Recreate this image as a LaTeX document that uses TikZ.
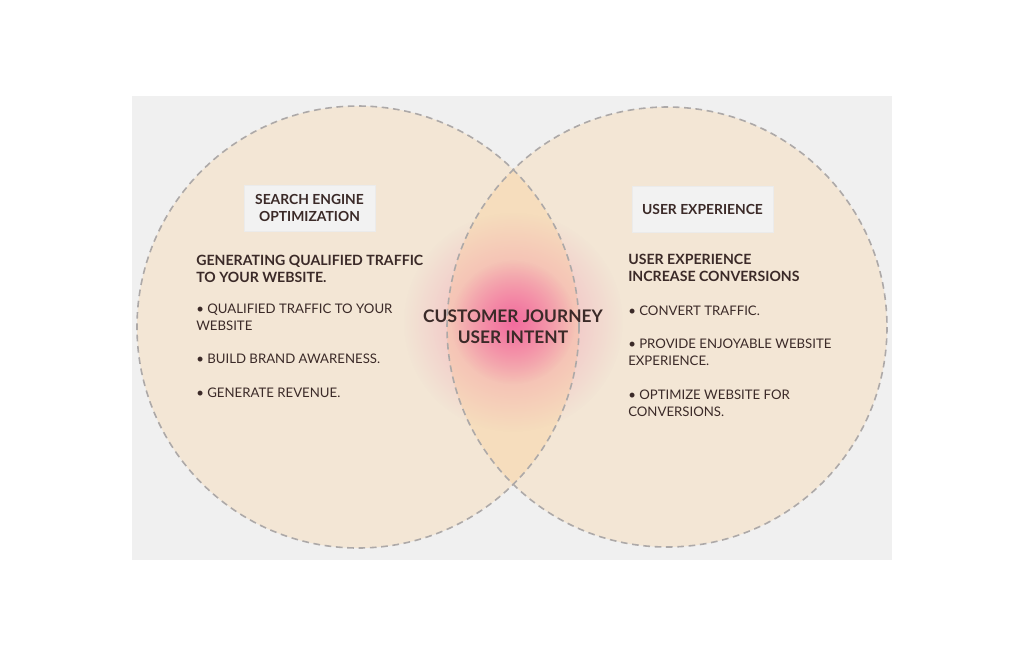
\documentclass[tikz,border=0pt]{standalone}
\usepackage{fontspec}
\setmainfont{Lato}
\usetikzlibrary{positioning,fadings,shadows}
\definecolor{panel}{HTML}{F0F0F0}
\definecolor{sand}{HTML}{F6DEBC}
\definecolor{lens}{HTML}{F6DDBD}
\definecolor{rim}{HTML}{ADA9A8}
\definecolor{ink}{HTML}{3B2A28}
\definecolor{rose}{HTML}{F25E9A}
\definecolor{tagfill}{HTML}{F2F2F2}
\tikzfading[name=glowfade,inner color=transparent!0,outer color=transparent!100]

\begin{document}
\begin{tikzpicture}[
  x=0.75pt,y=-0.75pt,
  disc/.style={fill=sand,fill opacity=0.5},
  rimline/.style={draw=rim,line width=1.2pt,dash pattern=on 5pt off 3.5pt},
  tagbox/.style={fill=tagfill,draw=black!8,inner sep=0pt,minimum height=34.5pt,align=center,text=ink,font=\fontsize{10.4}{12.75}\selectfont\bfseries,drop shadow={opacity=0.12,shadow xshift=0.8pt,shadow yshift=-0.8pt}},
  head/.style={anchor=base west,inner sep=0pt,align=left,text=ink,font=\fontsize{10.6}{12.75}\selectfont\bfseries},
  item/.style={anchor=base west,inner sep=0pt,align=left,text=ink,font=\fontsize{9.9}{12.75}\selectfont},
  core/.style={anchor=base,inner sep=0pt,align=center,text=ink,font=\fontsize{13}{15.75}\selectfont\bfseries}
]
\useasboundingbox (0,0) rectangle (1024,658);
\fill[panel] (132,96) rectangle (892,560);
\fill[disc] (358,327) circle[radius=221];
\fill[disc] (667,327) circle[radius=220];
\begin{scope}
  \clip (358,327) circle[radius=221];
  \fill[lens] (667,327) circle[radius=220];
\end{scope}
\fill[rose,fill opacity=0.45,path fading=glowfade] (513,322) circle[radius=110];
\fill[rose,fill opacity=0.8,path fading=glowfade] (513,322) circle[radius=62];
\draw[rimline] (358,327) circle[radius=221];
\draw[rimline] (667,327) circle[radius=220];

\node[tagbox,minimum width=98.25pt] (seo) at (309.5,208) {SEARCH ENGINE\\OPTIMIZATION};
\node[tagbox,minimum width=105.75pt] (ux) at (702.5,209) {USER EXPERIENCE};

\node[head] (seohead) at (196,282) {GENERATING QUALIFIED TRAFFIC\\TO YOUR WEBSITE.};
\node[item] (seo1) at (196,330) {• QUALIFIED TRAFFIC TO YOUR\\WEBSITE};
\node[item] (seo2) at (196,363) {• BUILD BRAND AWARENESS.};
\node[item] (seo3) at (196,397) {• GENERATE REVENUE.};

\node[head] (uxhead) at (628,281) {USER EXPERIENCE\\INCREASE CONVERSIONS};
\node[item] (ux1) at (628,315) {• CONVERT TRAFFIC.};
\node[item] (ux2) at (628,365) {• PROVIDE ENJOYABLE WEBSITE\\EXPERIENCE.};
\node[item] (ux3) at (628,416) {• OPTIMIZE WEBSITE FOR\\CONVERSIONS.};

\node[core] (journey) at (513,343) {CUSTOMER JOURNEY\\USER INTENT};
\end{tikzpicture}
\end{document}
